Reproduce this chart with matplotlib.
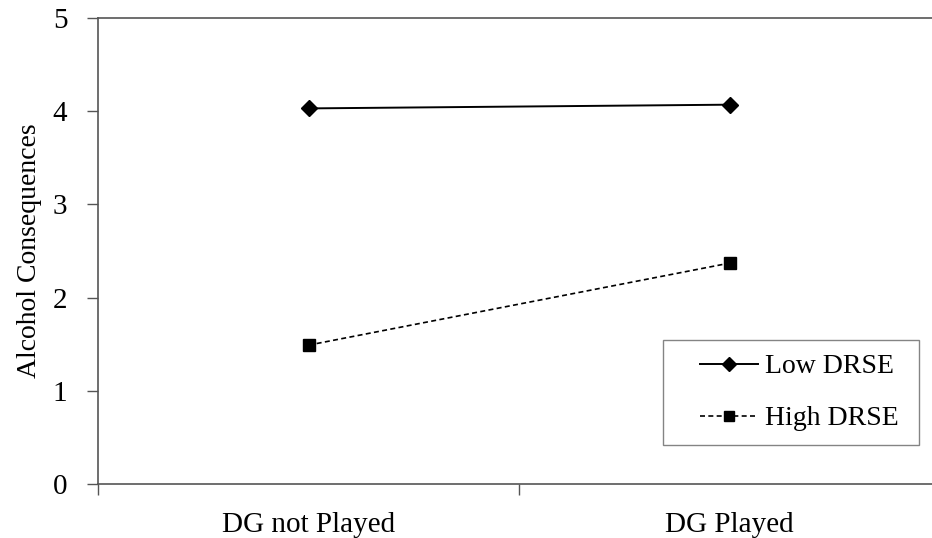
import numpy as np
import matplotlib.pyplot as plt
from matplotlib.legend_handler import HandlerLine2D

conditions = ['DG not Played', 'DG Played']
low_drse = [4.03, 4.07]
high_drse = [1.49, 2.37]

plt.rcParams['font.family'] = ['Liberation Serif', 'DejaVu Serif']

W, H = 932, 538
fig = plt.figure(figsize=(W / 100, H / 100), dpi=100)
# axes run past the right edge, as in the original crop
ax = fig.add_axes([98 / W, 1 - 484 / H, 842 / W, 466 / H])

x = np.arange(len(conditions)) + 0.5
l1, = ax.plot(x, low_drse, color='black', lw=1.4, marker='D', ms=8, label='Low DRSE')
l2, = ax.plot(x, high_drse, color='black', lw=1.2, ls=(0, (3, 2)), marker='s', ms=9,
              label='High DRSE')

ax.set_xlim(0, 2)
ax.set_ylim(0, 5)
ax.set_xticks([0, 1, 2])
ax.set_xticklabels([])
ax.set_xticks(x, minor=True)
ax.set_xticklabels(conditions, minor=True, fontsize=21)
ax.tick_params(axis='x', which='minor', length=0, pad=20)
ax.tick_params(axis='x', which='major', length=8, width=1, color='#555555', direction='out')
ax.set_yticks(range(6))
ax.tick_params(axis='y', length=8, width=1, color='#555555', labelsize=21, pad=14)

for s in ['top', 'left', 'bottom']:
    ax.spines[s].set_color('#555555')
    ax.spines[s].set_linewidth(1.2)
ax.spines['right'].set_visible(False)

ax.set_ylabel('Alcohol Consequences', fontsize=20, labelpad=8)

# xpad pushes the handle right, leaving a wider left margin in the box
hmap = {l1: HandlerLine2D(xpad=0.83), l2: HandlerLine2D(xpad=0.83)}
leg = ax.legend(loc='upper left',
                bbox_to_anchor=(663 / W, 1 - 445 / H, 256 / W, 105 / H),
                bbox_transform=fig.transFigure, mode='expand', fontsize=20,
                frameon=True, fancybox=False, edgecolor='#666666',
                handlelength=2.91, handletextpad=0.25, labelspacing=0.96,
                borderpad=0.5, borderaxespad=0, markerscale=0.85,
                handler_map=hmap)
leg.get_frame().set_linewidth(1.0)

fig.savefig('out.png', dpi=100)
